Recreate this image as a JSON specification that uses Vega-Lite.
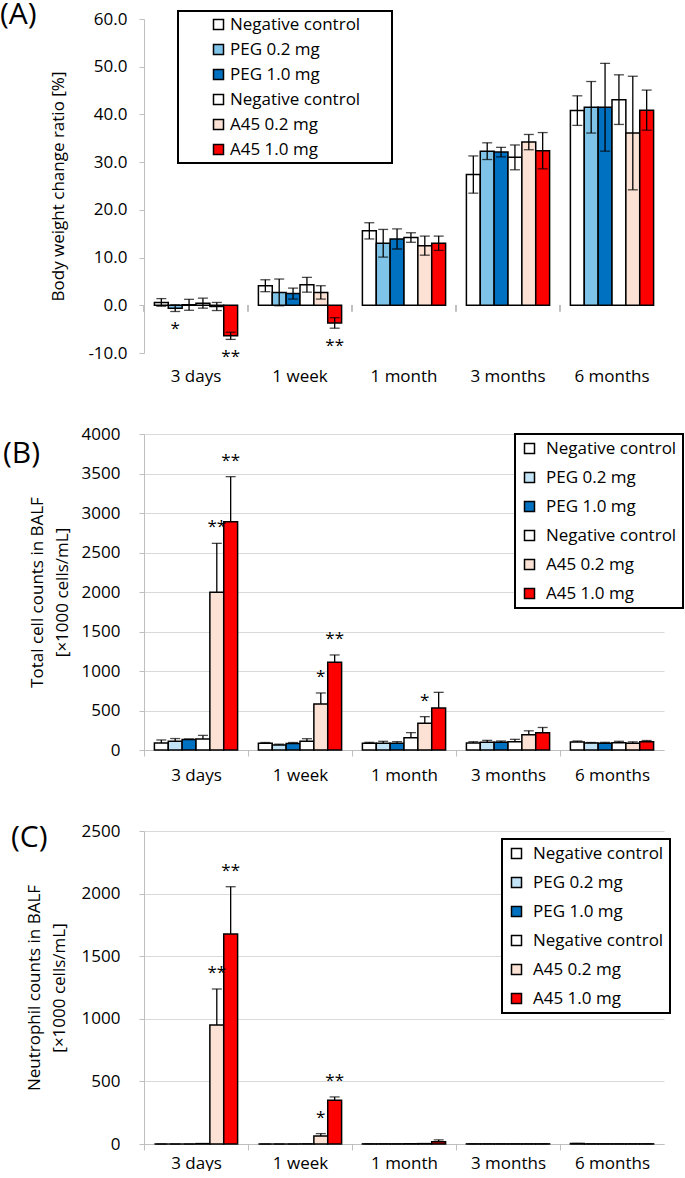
{
  "$schema": "https://vega.github.io/schema/vega-lite/v6.json",
  "padding": {"left": 0, "top": 0, "right": 0, "bottom": 0},
  "bounds": "flush",
  "spacing": 81,
  "resolve": {"scale": {"x": "independent", "y": "independent", "color": "independent", "xOffset": "independent"}, "legend": {"color": "independent"}},
  "config": {
    "font": "Open Sans",
    "view": {"stroke": null},
    "axis": {"labelFont": "Open Sans", "titleFont": "Open Sans", "labelFontSize": 17, "titleFontSize": 17, "labelColor": "#000", "titleColor": "#000", "titleFontWeight": "normal", "gridColor": "#d9d9d9", "gridWidth": 1.2, "domainColor": "#bfbfbf", "tickColor": "#bfbfbf", "labelOverlap": false},
    "legend": {"labelFont": "Open Sans", "labelFontSize": 17, "labelColor": "#000", "symbolType": "square", "symbolSize": 100, "symbolStrokeColor": "#000", "symbolStrokeWidth": 1.5, "strokeColor": "#000", "fillColor": "#fff", "labelLimit": 400, "title": null},
    "title": {"font": "Open Sans", "fontSize": 30, "fontWeight": "normal", "color": "#000", "anchor": "start", "frame": "group", "offset": 0}
  },
  "datasets": {
    "bw": [
      {"time": "3 days", "group": "Negative control (PEG)", "mean": 0.6, "lo": -0.2, "hi": 1.4, "sig": ""},
      {"time": "3 days", "group": "PEG 0.2 mg", "mean": -0.6, "lo": -1.3, "hi": 0.1, "sig": "*"},
      {"time": "3 days", "group": "PEG 1.0 mg", "mean": 0.1, "lo": -1.05, "hi": 1.25, "sig": ""},
      {"time": "3 days", "group": "Negative control (A45)", "mean": 0.45, "lo": -0.6, "hi": 1.5, "sig": ""},
      {"time": "3 days", "group": "A45 0.2 mg", "mean": -0.25, "lo": -1.1, "hi": 0.6, "sig": ""},
      {"time": "3 days", "group": "A45 1.0 mg", "mean": -6.4, "lo": -7.15, "hi": -5.65, "sig": "**"},
      {"time": "1 week", "group": "Negative control (PEG)", "mean": 4.1, "lo": 2.85, "hi": 5.35, "sig": ""},
      {"time": "1 week", "group": "PEG 0.2 mg", "mean": 2.7, "lo": -0.1, "hi": 5.5, "sig": ""},
      {"time": "1 week", "group": "PEG 1.0 mg", "mean": 2.45, "lo": 1.3, "hi": 3.6, "sig": ""},
      {"time": "1 week", "group": "Negative control (A45)", "mean": 4.3, "lo": 2.75, "hi": 5.85, "sig": ""},
      {"time": "1 week", "group": "A45 0.2 mg", "mean": 2.7, "lo": 1.3, "hi": 4.1, "sig": ""},
      {"time": "1 week", "group": "A45 1.0 mg", "mean": -3.7, "lo": -4.8, "hi": -2.6, "sig": "**"},
      {"time": "1 month", "group": "Negative control (PEG)", "mean": 15.6, "lo": 13.9, "hi": 17.3, "sig": ""},
      {"time": "1 month", "group": "PEG 0.2 mg", "mean": 13.0, "lo": 10.1, "hi": 15.9, "sig": ""},
      {"time": "1 month", "group": "PEG 1.0 mg", "mean": 13.9, "lo": 11.8, "hi": 16.0, "sig": ""},
      {"time": "1 month", "group": "Negative control (A45)", "mean": 14.2, "lo": 13.2, "hi": 15.2, "sig": ""},
      {"time": "1 month", "group": "A45 0.2 mg", "mean": 12.5, "lo": 10.5, "hi": 14.5, "sig": ""},
      {"time": "1 month", "group": "A45 1.0 mg", "mean": 13.0, "lo": 11.5, "hi": 14.5, "sig": ""},
      {"time": "3 months", "group": "Negative control (PEG)", "mean": 27.4, "lo": 23.5, "hi": 31.3, "sig": ""},
      {"time": "3 months", "group": "PEG 0.2 mg", "mean": 32.3, "lo": 30.55, "hi": 34.05, "sig": ""},
      {"time": "3 months", "group": "PEG 1.0 mg", "mean": 32.1, "lo": 31.1, "hi": 33.1, "sig": ""},
      {"time": "3 months", "group": "Negative control (A45)", "mean": 31.0, "lo": 28.4, "hi": 33.6, "sig": ""},
      {"time": "3 months", "group": "A45 0.2 mg", "mean": 34.2, "lo": 32.6, "hi": 35.8, "sig": ""},
      {"time": "3 months", "group": "A45 1.0 mg", "mean": 32.4, "lo": 28.6, "hi": 36.2, "sig": ""},
      {"time": "6 months", "group": "Negative control (PEG)", "mean": 40.8, "lo": 37.7, "hi": 43.9, "sig": ""},
      {"time": "6 months", "group": "PEG 0.2 mg", "mean": 41.5, "lo": 36.1, "hi": 46.9, "sig": ""},
      {"time": "6 months", "group": "PEG 1.0 mg", "mean": 41.5, "lo": 32.3, "hi": 50.7, "sig": ""},
      {"time": "6 months", "group": "Negative control (A45)", "mean": 43.1, "lo": 37.9, "hi": 48.3, "sig": ""},
      {"time": "6 months", "group": "A45 0.2 mg", "mean": 36.1, "lo": 24.2, "hi": 48.0, "sig": ""},
      {"time": "6 months", "group": "A45 1.0 mg", "mean": 40.9, "lo": 36.7, "hi": 45.1, "sig": ""}
    ],
    "tcc": [
      {"time": "3 days", "group": "Negative control (PEG)", "mean": 90, "hi": 127, "sig": ""},
      {"time": "3 days", "group": "PEG 0.2 mg", "mean": 112, "hi": 145, "sig": ""},
      {"time": "3 days", "group": "PEG 1.0 mg", "mean": 133, "hi": 140, "sig": ""},
      {"time": "3 days", "group": "Negative control (A45)", "mean": 140, "hi": 185, "sig": ""},
      {"time": "3 days", "group": "A45 0.2 mg", "mean": 1996, "hi": 2616, "sig": "**"},
      {"time": "3 days", "group": "A45 1.0 mg", "mean": 2890, "hi": 3460, "sig": "**"},
      {"time": "1 week", "group": "Negative control (PEG)", "mean": 85, "hi": 95, "sig": ""},
      {"time": "1 week", "group": "PEG 0.2 mg", "mean": 63, "hi": 74, "sig": ""},
      {"time": "1 week", "group": "PEG 1.0 mg", "mean": 82, "hi": 95, "sig": ""},
      {"time": "1 week", "group": "Negative control (A45)", "mean": 110, "hi": 143, "sig": ""},
      {"time": "1 week", "group": "A45 0.2 mg", "mean": 582, "hi": 722, "sig": "*"},
      {"time": "1 week", "group": "A45 1.0 mg", "mean": 1110, "hi": 1203, "sig": "**"},
      {"time": "1 month", "group": "Negative control (PEG)", "mean": 86, "hi": 97, "sig": ""},
      {"time": "1 month", "group": "PEG 0.2 mg", "mean": 86, "hi": 110, "sig": ""},
      {"time": "1 month", "group": "PEG 1.0 mg", "mean": 84, "hi": 105, "sig": ""},
      {"time": "1 month", "group": "Negative control (A45)", "mean": 155, "hi": 220, "sig": ""},
      {"time": "1 month", "group": "A45 0.2 mg", "mean": 338, "hi": 422, "sig": "*"},
      {"time": "1 month", "group": "A45 1.0 mg", "mean": 532, "hi": 730, "sig": ""},
      {"time": "3 months", "group": "Negative control (PEG)", "mean": 88, "hi": 105, "sig": ""},
      {"time": "3 months", "group": "PEG 0.2 mg", "mean": 99, "hi": 122, "sig": ""},
      {"time": "3 months", "group": "PEG 1.0 mg", "mean": 99, "hi": 114, "sig": ""},
      {"time": "3 months", "group": "Negative control (A45)", "mean": 105, "hi": 135, "sig": ""},
      {"time": "3 months", "group": "A45 0.2 mg", "mean": 192, "hi": 243, "sig": ""},
      {"time": "3 months", "group": "A45 1.0 mg", "mean": 217, "hi": 285, "sig": ""},
      {"time": "6 months", "group": "Negative control (PEG)", "mean": 100, "hi": 114, "sig": ""},
      {"time": "6 months", "group": "PEG 0.2 mg", "mean": 90, "hi": 95, "sig": ""},
      {"time": "6 months", "group": "PEG 1.0 mg", "mean": 86, "hi": 97, "sig": ""},
      {"time": "6 months", "group": "Negative control (A45)", "mean": 93, "hi": 110, "sig": ""},
      {"time": "6 months", "group": "A45 0.2 mg", "mean": 85, "hi": 103, "sig": ""},
      {"time": "6 months", "group": "A45 1.0 mg", "mean": 105, "hi": 120, "sig": ""}
    ],
    "neu": [
      {"time": "3 days", "group": "Negative control (PEG)", "mean": 0, "hi": 0, "sig": ""},
      {"time": "3 days", "group": "PEG 0.2 mg", "mean": 0, "hi": 0, "sig": ""},
      {"time": "3 days", "group": "PEG 1.0 mg", "mean": 0, "hi": 0, "sig": ""},
      {"time": "3 days", "group": "Negative control (A45)", "mean": 3, "hi": 3, "sig": ""},
      {"time": "3 days", "group": "A45 0.2 mg", "mean": 951, "hi": 1238, "sig": "**"},
      {"time": "3 days", "group": "A45 1.0 mg", "mean": 1677, "hi": 2055, "sig": "**"},
      {"time": "1 week", "group": "Negative control (PEG)", "mean": 0, "hi": 0, "sig": ""},
      {"time": "1 week", "group": "PEG 0.2 mg", "mean": 0, "hi": 0, "sig": ""},
      {"time": "1 week", "group": "PEG 1.0 mg", "mean": 0, "hi": 0, "sig": ""},
      {"time": "1 week", "group": "Negative control (A45)", "mean": 1, "hi": 1, "sig": ""},
      {"time": "1 week", "group": "A45 0.2 mg", "mean": 64, "hi": 83, "sig": "*"},
      {"time": "1 week", "group": "A45 1.0 mg", "mean": 350, "hi": 376, "sig": "**"},
      {"time": "1 month", "group": "Negative control (PEG)", "mean": 1, "hi": 1, "sig": ""},
      {"time": "1 month", "group": "PEG 0.2 mg", "mean": 1, "hi": 1, "sig": ""},
      {"time": "1 month", "group": "PEG 1.0 mg", "mean": 1, "hi": 1, "sig": ""},
      {"time": "1 month", "group": "Negative control (A45)", "mean": 2, "hi": 2, "sig": ""},
      {"time": "1 month", "group": "A45 0.2 mg", "mean": 3, "hi": 3, "sig": ""},
      {"time": "1 month", "group": "A45 1.0 mg", "mean": 18, "hi": 33, "sig": ""},
      {"time": "3 months", "group": "Negative control (PEG)", "mean": 1, "hi": 1, "sig": ""},
      {"time": "3 months", "group": "PEG 0.2 mg", "mean": 1, "hi": 1, "sig": ""},
      {"time": "3 months", "group": "PEG 1.0 mg", "mean": 1, "hi": 1, "sig": ""},
      {"time": "3 months", "group": "Negative control (A45)", "mean": 1, "hi": 1, "sig": ""},
      {"time": "3 months", "group": "A45 0.2 mg", "mean": 1, "hi": 1, "sig": ""},
      {"time": "3 months", "group": "A45 1.0 mg", "mean": 1, "hi": 1, "sig": ""},
      {"time": "6 months", "group": "Negative control (PEG)", "mean": 4, "hi": 4, "sig": ""},
      {"time": "6 months", "group": "PEG 0.2 mg", "mean": 1, "hi": 1, "sig": ""},
      {"time": "6 months", "group": "PEG 1.0 mg", "mean": 1, "hi": 1, "sig": ""},
      {"time": "6 months", "group": "Negative control (A45)", "mean": 1, "hi": 1, "sig": ""},
      {"time": "6 months", "group": "A45 0.2 mg", "mean": 1, "hi": 1, "sig": ""},
      {"time": "6 months", "group": "A45 1.0 mg", "mean": 1, "hi": 1, "sig": ""}
    ]
  },
  "vconcat": [
    {
      "width": 520, "height": 334,
      "title": {"text": "(A)", "dx": -144, "dy": 24},
      "data": {"name": "bw"},
      "encoding": {
        "x": {"field": "time", "type": "nominal", "sort": ["3 days", "1 week", "1 month", "3 months", "6 months"], "scale": {"paddingInner": 0.2, "paddingOuter": 0.1}, "axis": {"title": null, "labelAngle": 0, "domain": false, "ticks": false, "labelPadding": 15}}
      },
      "layer": [
        {
          "mark": {"type": "rule", "color": "#bfbfbf", "strokeWidth": 1},
          "encoding": {
            "x": {"field": "time", "type": "nominal", "sort": ["3 days", "1 week", "1 month", "3 months", "6 months"], "bandPosition": -0.125},
            "y": {"datum": 0, "type": "quantitative", "axis": {"title": "Body weight change ratio [%]", "values": [-10, 0, 10, 20, 30, 40, 50, 60], "format": ".1f", "labelExpr": "replace(datum.label, '\u2212', '-')", "tickSize": 5, "labelPadding": 12, "titlePadding": 20}},
            "y2": {"datum": -1.3}
          }
        },
        {
          "mark": {"type": "bar", "stroke": "#000", "strokeWidth": 1.5},
          "encoding": {
            "xOffset": {"field": "group", "type": "nominal", "sort": ["Negative control (PEG)", "PEG 0.2 mg", "PEG 1.0 mg", "Negative control (A45)", "A45 0.2 mg", "A45 1.0 mg"], "scale": {"paddingInner": 0, "paddingOuter": 0}},
            "y": {"field": "mean", "type": "quantitative", "scale": {"domain": [-10, 60], "nice": false}, "axis": {"title": "Body weight change ratio [%]", "values": [-10, 0, 10, 20, 30, 40, 50, 60], "format": ".1f", "labelExpr": "replace(datum.label, '\u2212', '-')", "tickSize": 5, "labelPadding": 12, "titlePadding": 20}},
            "color": {"field": "group", "type": "nominal", "scale": {"domain": ["Negative control (PEG)", "PEG 0.2 mg", "PEG 1.0 mg", "Negative control (A45)", "A45 0.2 mg", "A45 1.0 mg"], "range": ["#FFFFFF", "#7FC4E8", "#0070C0", "#FFFFFF", "#FBE2D5", "#FF0000"]},
              "legend": {"orient": "none", "legendX": 34, "legendY": -8, "padding": 5, "rowPadding": 7, "symbolOffset": 27, "labelOffset": 3, "labelExpr": "(indexof(datum.label,'Negative')===0 ? 'Negative control' : datum.label) + '\u00a0\u00a0\u00a0\u00a0\u00a0\u00a0\u200b'", "encode": {"legend": {"update": {"strokeWidth": {"value": 2}}}}}}
          }
        },
        {"mark": {"type": "rule", "color": "#000", "strokeWidth": 1.3}, "encoding": {"xOffset": {"field": "group", "type": "nominal", "sort": ["Negative control (PEG)", "PEG 0.2 mg", "PEG 1.0 mg", "Negative control (A45)", "A45 0.2 mg", "A45 1.0 mg"]}, "y": {"field": "lo", "type": "quantitative", "axis": {"title": "Body weight change ratio [%]", "values": [-10, 0, 10, 20, 30, 40, 50, 60], "format": ".1f", "labelExpr": "replace(datum.label, '\u2212', '-')", "tickSize": 5, "labelPadding": 12, "titlePadding": 20}}, "y2": {"field": "hi"}}},
        {"mark": {"type": "tick", "color": "#000", "size": 10, "thickness": 1.3}, "encoding": {"xOffset": {"field": "group", "type": "nominal", "sort": ["Negative control (PEG)", "PEG 0.2 mg", "PEG 1.0 mg", "Negative control (A45)", "A45 0.2 mg", "A45 1.0 mg"]}, "y": {"field": "lo", "type": "quantitative", "axis": {"title": "Body weight change ratio [%]", "values": [-10, 0, 10, 20, 30, 40, 50, 60], "format": ".1f", "labelExpr": "replace(datum.label, '\u2212', '-')", "tickSize": 5, "labelPadding": 12, "titlePadding": 20}}}},
        {"mark": {"type": "tick", "color": "#000", "size": 10, "thickness": 1.3}, "encoding": {"xOffset": {"field": "group", "type": "nominal", "sort": ["Negative control (PEG)", "PEG 0.2 mg", "PEG 1.0 mg", "Negative control (A45)", "A45 0.2 mg", "A45 1.0 mg"]}, "y": {"field": "hi", "type": "quantitative", "axis": {"title": "Body weight change ratio [%]", "values": [-10, 0, 10, 20, 30, 40, 50, 60], "format": ".1f", "labelExpr": "replace(datum.label, '\u2212', '-')", "tickSize": 5, "labelPadding": 12, "titlePadding": 20}}}},
        {"mark": {"type": "text", "font": "Open Sans", "fontSize": 17, "color": "#000", "dy": 18, "baseline": "middle"}, "encoding": {"xOffset": {"field": "group", "type": "nominal", "sort": ["Negative control (PEG)", "PEG 0.2 mg", "PEG 1.0 mg", "Negative control (A45)", "A45 0.2 mg", "A45 1.0 mg"]}, "y": {"field": "lo", "type": "quantitative", "axis": {"title": "Body weight change ratio [%]", "values": [-10, 0, 10, 20, 30, 40, 50, 60], "format": ".1f", "labelExpr": "replace(datum.label, '\u2212', '-')", "tickSize": 5, "labelPadding": 12, "titlePadding": 20}}, "text": {"field": "sig"}}}
      ]
    },
    {
      "width": 520, "height": 316,
      "title": {"text": "(B)", "dx": -141, "dy": 48},
      "data": {"name": "tcc"},
      "encoding": {
        "x": {"field": "time", "type": "nominal", "sort": ["3 days", "1 week", "1 month", "3 months", "6 months"], "scale": {"paddingInner": 0.2, "paddingOuter": 0.1}, "axis": {"title": null, "labelAngle": 0, "tickSize": 6, "tickOffset": -52, "labelOffset": 52, "labelPadding": 11}},
        "xOffset": {"field": "group", "type": "nominal", "sort": ["Negative control (PEG)", "PEG 0.2 mg", "PEG 1.0 mg", "Negative control (A45)", "A45 0.2 mg", "A45 1.0 mg"], "scale": {"paddingInner": 0, "paddingOuter": 0}}
      },
      "layer": [
        {
          "mark": {"type": "bar", "stroke": "#000", "strokeWidth": 1.5},
          "encoding": {
            "y": {"field": "mean", "type": "quantitative", "scale": {"domain": [0, 4000], "nice": false}, "axis": {"title": ["Total cell counts in BALF", "[×1000 cells/mL]"], "titleLineHeight": 25, "values": [0, 500, 1000, 1500, 2000, 2500, 3000, 3500, 4000], "format": "d", "tickSize": 5, "labelPadding": 19, "titlePadding": 10}},
            "color": {"field": "group", "type": "nominal", "scale": {"domain": ["Negative control (PEG)", "PEG 0.2 mg", "PEG 1.0 mg", "Negative control (A45)", "A45 0.2 mg", "A45 1.0 mg"], "range": ["#FFFFFF", "#C2E4F6", "#0070C0", "#FFFFFF", "#FBE2D5", "#FF0000"]},
              "legend": {"orient": "none", "legendX": 371, "legendY": 0, "padding": 6, "rowPadding": 11, "labelOffset": 8, "labelExpr": "indexof(datum.label,'Negative')===0 ? 'Negative control' : datum.label", "encode": {"legend": {"update": {"strokeWidth": {"value": 2}}}}}}
          }
        },
        {"mark": {"type": "rule", "color": "#000", "strokeWidth": 1.3}, "encoding": {"y": {"field": "mean", "type": "quantitative", "axis": {"title": ["Total cell counts in BALF", "[×1000 cells/mL]"], "titleLineHeight": 25, "values": [0, 500, 1000, 1500, 2000, 2500, 3000, 3500, 4000], "format": "d", "tickSize": 5, "labelPadding": 19, "titlePadding": 10}}, "y2": {"field": "hi"}}},
        {"mark": {"type": "tick", "color": "#000", "size": 10, "thickness": 1.3}, "encoding": {"y": {"field": "hi", "type": "quantitative", "axis": {"title": ["Total cell counts in BALF", "[×1000 cells/mL]"], "titleLineHeight": 25, "values": [0, 500, 1000, 1500, 2000, 2500, 3000, 3500, 4000], "format": "d", "tickSize": 5, "labelPadding": 19, "titlePadding": 10}}}},
        {"mark": {"type": "text", "font": "Open Sans", "fontSize": 17, "color": "#000", "dy": -16, "baseline": "middle"}, "encoding": {"y": {"field": "hi", "type": "quantitative", "axis": {"title": ["Total cell counts in BALF", "[×1000 cells/mL]"], "titleLineHeight": 25, "values": [0, 500, 1000, 1500, 2000, 2500, 3000, 3500, 4000], "format": "d", "tickSize": 5, "labelPadding": 19, "titlePadding": 10}}, "text": {"field": "sig"}}}
      ]
    },
    {
      "width": 520, "height": 313,
      "title": {"text": "(C)", "dx": -133, "dy": 35},
      "data": {"name": "neu"},
      "encoding": {
        "x": {"field": "time", "type": "nominal", "sort": ["3 days", "1 week", "1 month", "3 months", "6 months"], "scale": {"paddingInner": 0.2, "paddingOuter": 0.1}, "axis": {"title": null, "labelAngle": 0, "tickSize": 6, "tickOffset": -52, "labelOffset": 52, "labelPadding": 5}},
        "xOffset": {"field": "group", "type": "nominal", "sort": ["Negative control (PEG)", "PEG 0.2 mg", "PEG 1.0 mg", "Negative control (A45)", "A45 0.2 mg", "A45 1.0 mg"], "scale": {"paddingInner": 0, "paddingOuter": 0}}
      },
      "layer": [
        {
          "mark": {"type": "bar", "stroke": "#000", "strokeWidth": 1.5},
          "encoding": {
            "y": {"field": "mean", "type": "quantitative", "scale": {"domain": [0, 2500], "nice": false}, "axis": {"title": ["Neutrophil counts in BALF", "[×1000 cells/mL]"], "titleLineHeight": 25, "values": [0, 500, 1000, 1500, 2000, 2500], "format": "d", "tickSize": 5, "labelPadding": 19, "titlePadding": 13}},
            "color": {"field": "group", "type": "nominal", "scale": {"domain": ["Negative control (PEG)", "PEG 0.2 mg", "PEG 1.0 mg", "Negative control (A45)", "A45 0.2 mg", "A45 1.0 mg"], "range": ["#FFFFFF", "#C2E4F6", "#0070C0", "#FFFFFF", "#FBE2D5", "#FF0000"]},
              "legend": {"orient": "none", "legendX": 358, "legendY": 8, "padding": 6, "rowPadding": 11, "labelOffset": 8, "labelExpr": "indexof(datum.label,'Negative')===0 ? 'Negative control' : datum.label", "encode": {"legend": {"update": {"strokeWidth": {"value": 2}}}}}}
          }
        },
        {"mark": {"type": "rule", "color": "#000", "strokeWidth": 1.3}, "encoding": {"y": {"field": "mean", "type": "quantitative", "axis": {"title": ["Neutrophil counts in BALF", "[×1000 cells/mL]"], "titleLineHeight": 25, "values": [0, 500, 1000, 1500, 2000, 2500], "format": "d", "tickSize": 5, "labelPadding": 19, "titlePadding": 13}}, "y2": {"field": "hi"}}},
        {"mark": {"type": "tick", "color": "#000", "size": 10, "thickness": 1.3}, "encoding": {"y": {"field": "hi", "type": "quantitative", "axis": {"title": ["Neutrophil counts in BALF", "[×1000 cells/mL]"], "titleLineHeight": 25, "values": [0, 500, 1000, 1500, 2000, 2500], "format": "d", "tickSize": 5, "labelPadding": 19, "titlePadding": 13}}}},
        {"mark": {"type": "text", "font": "Open Sans", "fontSize": 17, "color": "#000", "dy": -16, "baseline": "middle"}, "encoding": {"y": {"field": "hi", "type": "quantitative", "axis": {"title": ["Neutrophil counts in BALF", "[×1000 cells/mL]"], "titleLineHeight": 25, "values": [0, 500, 1000, 1500, 2000, 2500], "format": "d", "tickSize": 5, "labelPadding": 19, "titlePadding": 13}}, "text": {"field": "sig"}}}
      ]
    }
  ]
}
